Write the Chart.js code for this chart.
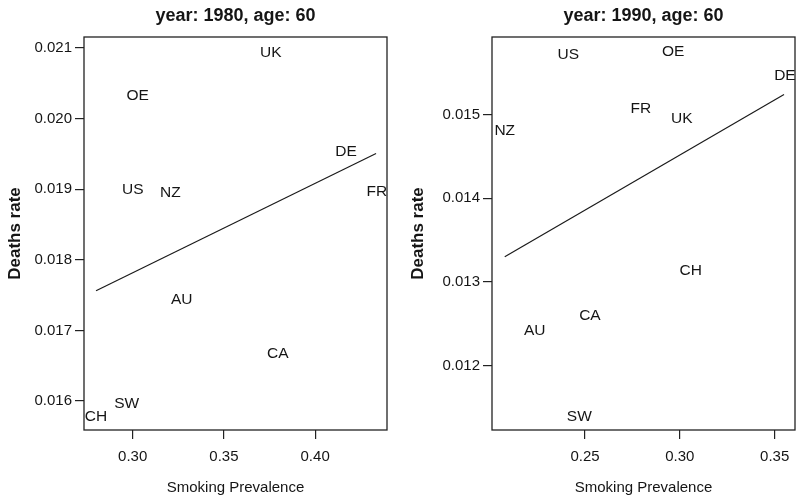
<!DOCTYPE html>
<html>
<head>
<meta charset="utf-8">
<script src="https://cdn.jsdelivr.net/npm/chart.js@4.4.1/dist/chart.umd.min.js"></script>
<style>
  html, body { margin: 0; padding: 0; background: #fff; }
  #wrap { position: relative; width: 796px; height: 498px; overflow: hidden; }
  canvas { position: absolute; top: 0; }
  #c1 { left: 0; }
  #c2 { left: 398px; }
</style>
</head>
<body>
<div id="wrap">
  <canvas id="c1" width="398" height="498"></canvas>
  <canvas id="c2" width="398" height="498"></canvas>
</div>
<script>
// ---- Panel 1: year 1980, age 60 ----
const title1980 = 'year: 1980, age: 60';
const countries1980 = ['UK', 'OE', 'DE', 'US', 'NZ', 'FR', 'AU', 'CA', 'SW', 'CH'];
const smoke1980 = [0.3757, 0.3027, 0.4169, 0.3000, 0.3206, 0.4338, 0.3269, 0.3795, 0.2967, 0.2799];
const death1980 = [0.02094, 0.02032, 0.019525, 0.01899, 0.018953, 0.01897, 0.017436, 0.016672, 0.01596, 0.015785];
const fit1980X = [0.2799, 0.4334];
const fit1980Y = [0.017563, 0.019505];
const xTicks1980 = [0.30, 0.35, 0.40];
const yTicks1980 = [0.016, 0.017, 0.018, 0.019, 0.020, 0.021];

// ---- Panel 2: year 1990, age 60 ----
const title1990 = 'year: 1990, age: 60';
const countries1990 = ['US', 'OE', 'DE', 'FR', 'UK', 'NZ', 'CH', 'CA', 'AU', 'SW'];
const smoke1990 = [0.2412, 0.2965, 0.3554, 0.2794, 0.3010, 0.2077, 0.3057, 0.2526, 0.2235, 0.2470];
const death1990 = [0.01572, 0.015747, 0.015469, 0.015072, 0.014944, 0.014804, 0.013134, 0.012593, 0.012418, 0.011391];
const fit1990X = [0.2077, 0.3549];
const fit1990Y = [0.0133, 0.015239];
const xTicks1990 = [0.25, 0.30, 0.35];
const yTicks1990 = [0.012, 0.013, 0.014, 0.015];

const xLabel = 'Smoking Prevalence';
const yLabel = 'Deaths rate';

const FAMILY = "'Liberation Sans', Arial, Helvetica, sans-serif";
const INK = '#151515';

const panelPlugin = {
  id: 'panel',
  afterDatasetsDraw(chart, args, opts) {
    const { ctx, chartArea: a } = chart;
    const xs = chart.scales.x, ys = chart.scales.y;
    const ds = chart.data.datasets[0];
    ctx.save();
    ctx.beginPath();
    ctx.rect(a.left, a.top, a.right - a.left, a.bottom - a.top);
    ctx.clip();
    ctx.font = '15.5px ' + FAMILY;
    ctx.fillStyle = INK;
    ctx.textAlign = 'center';
    ctx.textBaseline = 'middle';
    ds.data.forEach((p, i) => {
      ctx.fillText(opts.labels[i], xs.getPixelForValue(p.x), ys.getPixelForValue(p.y));
    });
    ctx.restore();

    ctx.save();
    ctx.strokeStyle = '#222';
    ctx.lineWidth = 1.3;
    ctx.strokeRect(a.left, a.top, a.right - a.left, a.bottom - a.top);
    ctx.restore();

    ctx.save();
    ctx.font = 'bold 18px ' + FAMILY;
    ctx.fillStyle = INK;
    ctx.textAlign = 'center';
    ctx.textBaseline = 'alphabetic';
    ctx.fillText(opts.title, (a.left + a.right) / 2, 21);
    ctx.restore();
  }
};

function makePanel(id, p) {
  const pts = p.xs.map((v, i) => ({ x: v, y: p.ys[i] }));
  const fit = p.fx.map((v, i) => ({ x: v, y: p.fy[i] }));
  return new Chart(document.getElementById(id), {
    type: 'scatter',
    data: {
      datasets: [
        { data: pts, pointRadius: 0, pointHoverRadius: 0, showLine: false },
        { data: fit, showLine: true, pointRadius: 0, borderColor: '#1a1a1a', borderWidth: 1.2, fill: false }
      ]
    },
    options: {
      responsive: false,
      animation: false,
      devicePixelRatio: 1,
      events: [],
      layout: { padding: { top: 37, right: p.padRight, left: 0, bottom: 0 } },
      plugins: {
        legend: { display: false },
        tooltip: { enabled: false },
        title: { display: false },
        panel: { labels: p.labels, title: p.title }
      },
      scales: {
        x: {
          type: 'linear',
          min: p.xmin, max: p.xmax,
          afterBuildTicks: s => { s.ticks = p.xt.map(v => ({ value: v })); },
          afterFit: s => { s.height = 68; s.paddingLeft = 0; s.paddingRight = 0; },
          grid: { display: true, drawOnChartArea: false, drawTicks: true, tickLength: 9, color: '#222', lineWidth: 1.2 },
          border: { display: false },
          ticks: { padding: 9, color: INK, font: { family: FAMILY, size: 15 }, callback: v => Number(v).toFixed(2), maxRotation: 0, autoSkip: false },
          title: { display: true, text: xLabel, color: INK, font: { family: FAMILY, size: 15 }, padding: { top: 4, bottom: 1 } }
        },
        y: {
          type: 'linear',
          min: p.ymin, max: p.ymax,
          afterBuildTicks: s => { s.ticks = p.yt.map(v => ({ value: v })); },
          afterFit: s => { s.width = p.yw; s.paddingTop = 0; s.paddingBottom = 0; },
          grid: { display: true, drawOnChartArea: false, drawTicks: true, tickLength: 9, color: '#222', lineWidth: 1.2 },
          border: { display: false },
          ticks: { padding: 3, color: INK, font: { family: FAMILY, size: 15 }, callback: v => Number(v).toFixed(3), autoSkip: false },
          title: { display: true, text: yLabel, color: INK, font: { family: FAMILY, size: 17, weight: 'bold' }, padding: { top: p.ytPad, bottom: 0 } }
        }
      }
    },
    plugins: [panelPlugin]
  });
}

makePanel('c1', {
  xs: smoke1980, ys: death1980, labels: countries1980, title: title1980,
  fx: fit1980X, fy: fit1980Y, xt: xTicks1980, yt: yTicks1980,
  xmin: 0.2733, xmax: 0.4394, ymin: 0.01559, ymax: 0.021156,
  padRight: 11, yw: 84, ytPad: 5
});

makePanel('c2', {
  xs: smoke1990, ys: death1990, labels: countries1990, title: title1990,
  fx: fit1990X, fy: fit1990Y, xt: xTicks1990, yt: yTicks1990,
  xmin: 0.20098, xmax: 0.3607, ymin: 0.011229, ymax: 0.015926,
  padRight: 1, yw: 94, ytPad: 10
});
</script>
</body>
</html>
